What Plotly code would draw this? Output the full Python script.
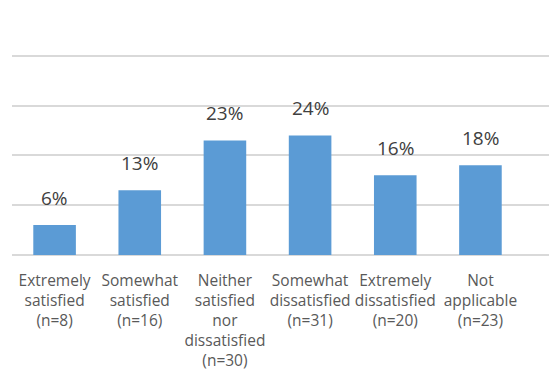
import plotly.graph_objects as go

categories = [
    "Extremely<br>satisfied<br>(n=8)",
    "Somewhat<br>satisfied<br>(n=16)",
    "Neither<br>satisfied<br>nor<br>dissatisfied<br>(n=30)",
    "Somewhat<br>dissatisfied<br>(n=31)",
    "Extremely<br>dissatisfied<br>(n=20)",
    "Not<br>applicable<br>(n=23)",
]
percentages = [6, 13, 23, 24, 16, 18]

BAR_COLOR = "#5B9BD5"
GRID_COLOR = "#D9D9D9"

fig = go.Figure(
    go.Bar(
        x=categories,
        y=percentages,
        marker=dict(color=BAR_COLOR, line=dict(width=0)),
        width=0.5,
        hoverinfo="skip",
    )
)

# Percentage labels above each bar
for cat, val in zip(categories, percentages):
    fig.add_annotation(
        x=cat,
        y=val,
        text=f"{val}%",
        showarrow=False,
        yanchor="bottom",
        yshift=12,
        font=dict(family="Open Sans", size=19, color="#404040"),
    )

fig.update_layout(
    width=549,
    height=381,
    margin=dict(l=12, r=0, t=6, b=126),
    paper_bgcolor="white",
    plot_bgcolor="white",
    showlegend=False,
    xaxis=dict(
        type="category",
        range=[-0.5, 5.805],
        showgrid=False,
        showline=False,
        zeroline=False,
        ticks="outside",
        ticklen=11,
        tickcolor="rgba(0,0,0,0)",
        tickfont=dict(family="Open Sans", size=15.5, color="#595959"),
        tickangle=0,
    ),
    yaxis=dict(
        range=[0, 50],
        dtick=10,
        showgrid=True,
        gridcolor=GRID_COLOR,
        gridwidth=1.5,
        zeroline=True,
        zerolinecolor=GRID_COLOR,
        zerolinewidth=1.5,
        showticklabels=False,
        showline=False,
    ),
)

fig.write_html("out.html")
